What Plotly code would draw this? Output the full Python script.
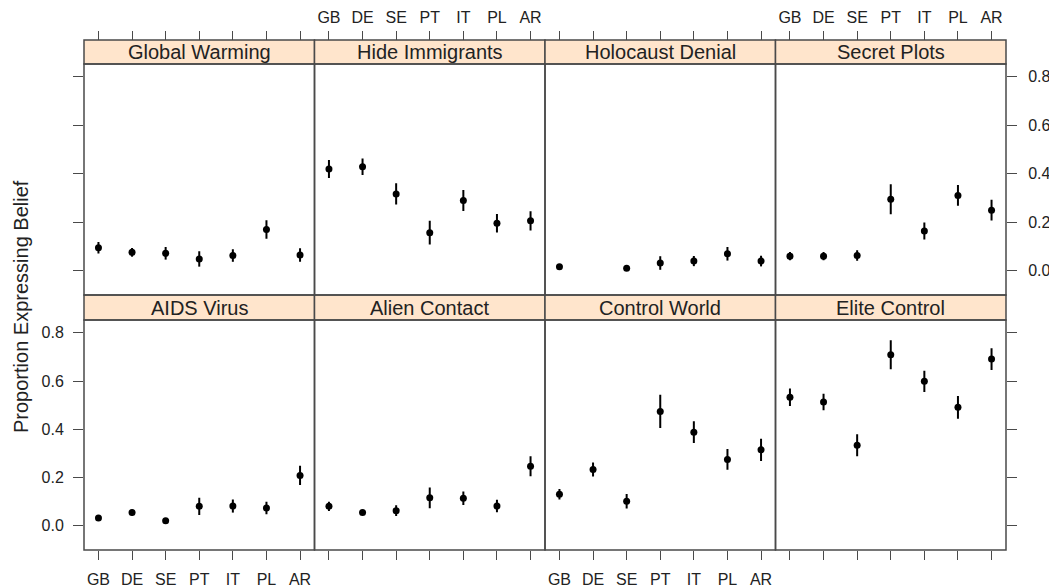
import plotly.graph_objects as go

countries = ["GB", "DE", "SE", "PT", "IT", "PL", "AR"]
panels = ["Global Warming", "Hide Immigrants", "Holocaust Denial", "Secret Plots",
          "AIDS Virus", "Alien Contact", "Control World", "Elite Control"]

global_warming = [0.095, 0.076, 0.072, 0.049, 0.063, 0.170, 0.065]
global_warming_err = [0.024, 0.018, 0.026, 0.032, 0.026, 0.038, 0.028]
hide_immigrants = [0.420, 0.429, 0.317, 0.157, 0.290, 0.196, 0.206]
hide_immigrants_err = [0.037, 0.034, 0.044, 0.049, 0.043, 0.038, 0.040]
holocaust_denial = [0.017, None, 0.010, 0.032, 0.040, 0.070, 0.040]
holocaust_denial_err = [0.008, 0.0, 0.006, 0.028, 0.021, 0.028, 0.022]
secret_plots = [0.060, 0.060, 0.063, 0.295, 0.164, 0.311, 0.250]
secret_plots_err = [0.017, 0.017, 0.022, 0.062, 0.035, 0.043, 0.043]
aids_virus = [0.033, 0.055, 0.021, 0.081, 0.082, 0.074, 0.209]
aids_virus_err = [0.010, 0.012, 0.008, 0.036, 0.027, 0.026, 0.040]
alien_contact = [0.081, 0.055, 0.063, 0.116, 0.114, 0.082, 0.247]
alien_contact_err = [0.019, 0.010, 0.022, 0.043, 0.028, 0.026, 0.041]
control_world = [0.131, 0.234, 0.102, 0.474, 0.388, 0.275, 0.315]
control_world_err = [0.022, 0.029, 0.030, 0.069, 0.045, 0.043, 0.046]
elite_control = [0.533, 0.513, 0.334, 0.709, 0.599, 0.491, 0.691]
elite_control_err = [0.036, 0.034, 0.046, 0.060, 0.044, 0.047, 0.045]

values = [global_warming, hide_immigrants, holocaust_denial, secret_plots,
          aids_virus, alien_contact, control_world, elite_control]
errors = [global_warming_err, hide_immigrants_err, holocaust_denial_err, secret_plots_err,
          aids_virus_err, alien_contact_err, control_world_err, elite_control_err]

y_ticks = [0.0, 0.2, 0.4, 0.6, 0.8]
x_pos = list(range(1, 8))

FONT = "Liberation Sans, Arial, Helvetica, sans-serif"
AX = "#4a4a4a"
OFF = 8  # default page body margin
W, H = 1057 - OFF, 587 - OFF
# page-pixel layout targets: plot area x 84..1006, y 40..550
ML, MT = 84 - OFF, 40 - OFF
MR = W - (1006 - OFF)
MB = H - (550 - OFF)
plot_h = H - MT - MB
plot_w = W - ML - MR

def py(pix):
    return (550 - pix) / plot_h

def px(pix):
    return (pix - 84) / plot_w

row_dom = [(py(295), py(64)), (py(550), py(320))]
strip_dom = [(py(64), py(40)), (py(320), py(295))]

fig = go.Figure()
layout = dict(
    width=W, height=H,
    margin=dict(l=ML, r=MR, t=MT, b=MB, autoexpand=False),
    paper_bgcolor="white", plot_bgcolor="white",
    showlegend=False,
    font=dict(family=FONT, size=16, color="#222"),
)
shapes = []
annotations = []

for i, name in enumerate(panels):
    r, c = divmod(i, 4)
    xa = "x" if i == 0 else f"x{i+1}"
    ya = "y" if i == 0 else f"y{i+1}"
    fig.add_trace(go.Scatter(
        x=x_pos, y=values[i], xaxis=xa, yaxis=ya, mode="markers",
        marker=dict(color="black", size=7),
        error_y=dict(type="data", array=errors[i], visible=True,
                     color="black", thickness=2, width=0),
        cliponaxis=False, hoverinfo="skip",
    ))
    xkey = "xaxis" if i == 0 else f"xaxis{i+1}"
    ykey = "yaxis" if i == 0 else f"yaxis{i+1}"
    xd = dict(domain=[c / 4, (c + 1) / 4], range=[0.57, 7.43],
              tickvals=x_pos, ticktext=countries, automargin=False,
              showgrid=False, zeroline=False, showline=False,
              ticks="outside", ticklen=9, tickwidth=1, tickcolor=AX,
              tickfont=dict(size=16, color="#222", family=FONT))
    if r == 0:
        xd.update(anchor="free", position=1.0, side="top",
                  showticklabels=(c in (1, 3)), ticklabelstandoff=2)
    else:
        xd.update(anchor=ya, side="bottom", showticklabels=(c in (0, 2)),
                  ticklabelstandoff=6)
    layout[xkey] = xd

    yd = dict(domain=list(row_dom[r]), range=[-0.1, 0.853], anchor=xa,
              tickvals=y_ticks, tickformat=".1f", automargin=False,
              showgrid=False, zeroline=False, showline=False,
              tickfont=dict(size=16, color="#222", family=FONT),
              tickcolor=AX, tickwidth=1, ticklen=10)
    if c == 0:
        yd.update(side="left", ticks="outside", showticklabels=(r == 1),
                  ticklabelstandoff=6)
    elif c == 3:
        yd.update(side="right", ticks="outside", showticklabels=(r == 0),
                  ticklabelstandoff=8)
    else:
        yd.update(ticks="", showticklabels=False)
    layout[ykey] = yd

    shapes.append(dict(type="rect", xref="paper", yref="paper",
                       x0=c / 4, x1=(c + 1) / 4, y0=row_dom[r][0], y1=row_dom[r][1],
                       line=dict(color=AX, width=1.5), layer="above"))
    shapes.append(dict(type="rect", xref="paper", yref="paper",
                       x0=c / 4, x1=(c + 1) / 4, y0=strip_dom[r][0], y1=strip_dom[r][1],
                       fillcolor="#ffe5cc", line=dict(color=AX, width=1.5), layer="below"))
    annotations.append(dict(text=name, xref="paper", yref="paper",
                            x=(c + 0.5) / 4, y=(strip_dom[r][0] + strip_dom[r][1]) / 2,
                            xanchor="center", yanchor="middle", showarrow=False,
                            font=dict(size=20, color="#222", family=FONT)))

annotations.append(dict(text="Proportion Expressing Belief", xref="paper", yref="paper",
                        x=px(21), y=py(307),
                        xanchor="center", yanchor="middle", textangle=-90,
                        showarrow=False, font=dict(size=20, color="#222", family=FONT)))

layout["shapes"] = shapes
layout["annotations"] = annotations
fig.update_layout(**layout)
fig.write_html("out.html")
